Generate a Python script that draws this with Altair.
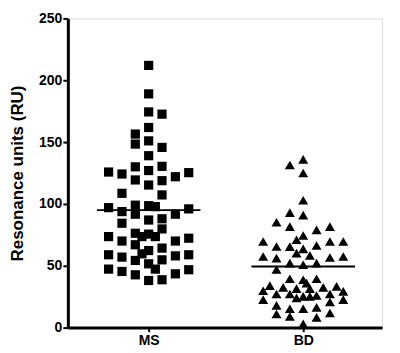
import altair as alt
import pandas as pd

groups = ["MS", "BD"]
group_pos = [1, 2]
means = [95, 49.5]

ms_values = [212, 189, 174.4, 172.6, 161.8, 156.5, 148.4, 151, 145.7, 139, 130, 130.4, 127,
             125.8, 124.2, 125.3, 122, 119.4, 118.8, 115.3, 108.6, 107.3,
             99, 98.6, 97.8, 97, 96, 93.8, 91.7, 91.7, 88, 87, 84.4, 79.8, 76.3, 75.6,
             73.6, 73.6, 73.6, 72.3, 70, 70, 67, 64.3, 62.3, 59.7, 58.9, 57, 54.3, 54.8,
             58, 58.9, 51.6, 47.3, 47.3, 45.4, 42.7, 43.5, 46.8, 38.1, 38.7]
ms_cols = [0, 0, 0, 2, 0, -2, -2, 0, 2, 0, -2, 2, 0,
           -6, -4, 6, 4, -2, 2, 0, -4, 2,
           -2, 0, 1, -6, 6, -4, -2, 4, 2, 0, -4, 2, -2, 0,
           -1, 1, -6, 6, -4, 4, -2, 2, 0, -1, -6, -4, -2, 2,
           4, 6, 0, 1, -6, -4, -2, 4, 6, 0, 2]

bd_values = [131.5, 136, 125, 103, 93, 91, 85.2, 81.7, 79, 81.7,
             74.5, 71, 69.6, 65.6, 65.5, 63.7, 66.4, 69.6, 69.6,
             57.5, 56.2, 60.2, 58.3, 52.2, 50.8, 52.2, 56.7, 57.5, 47,
             39.5, 38.7, 39.5, 36, 34, 32.5, 31.5, 31.5, 32.5, 33.3,
             29.8, 27.2, 27.2, 24, 25.3, 25.3, 26, 27.2, 29.3,
             22.6, 22.6, 20.7, 18, 15.3, 15.3, 16.4, 11, 9, 8.3, 11.8, 3]
bd_cols = [-2, 0, 0, 0, -2, 0, -4, -2, 2, 4,
           0, -1, -6, -4, -2, 0, 2, 4, 6,
           -6, -4, -1, 1, -2, 0, 2, 4, 6, -4,
           -2, 0, 2, 0.5, -5, -3, -1, 1, 3, 5,
           -6, -4, -2, -1, 0, 1, 2, 4, 6,
           -6, 6, 4, -4, -2, 0, 2, -4, -2, 2, 4, 0]

rows = []
for v, c in zip(ms_values, ms_cols):
    rows.append({"group": "MS", "gpos": 1, "col": c, "value": v})
for v, c in zip(bd_values, bd_cols):
    rows.append({"group": "BD", "gpos": 2, "col": c, "value": v})
pts = pd.DataFrame(rows)
mean_df = pd.DataFrame({"group": groups, "gpos": group_pos, "mean": means})

FONT = "Liberation Sans"
xscale = alt.Scale(domain=[0.477, 2.51], nice=False, zero=False)
yscale = alt.Scale(domain=[0, 250], nice=False)

xaxis = alt.Axis(values=[1, 2], labelExpr="datum.value == 1 ? 'MS' : 'BD'", title=None,
                 grid=False, domainWidth=3, domainColor="black", tickColor="black",
                 tickWidth=2, tickSize=4, labelFont=FONT, labelFontSize=14,
                 labelFontWeight="bold", labelColor="black", labelPadding=2)
yaxis = alt.Axis(values=[0, 50, 100, 150, 200, 250], title="Resonance units (RU)",
                 grid=False, domainWidth=3, domainColor="black", tickColor="black",
                 tickWidth=2, tickSize=5, labelFont=FONT, labelFontSize=14,
                 labelFontWeight="bold", labelColor="black", labelPadding=1,
                 titleFont=FONT, titleFontSize=17, titleFontWeight="bold",
                 titleColor="black", titlePadding=12)

points = alt.Chart(pts).transform_calculate(
    xp="datum.gpos + datum.col * 0.0432"
).mark_point(filled=True, opacity=1, color="black", strokeWidth=0).encode(
    x=alt.X("xp:Q", scale=xscale, axis=xaxis),
    y=alt.Y("value:Q", scale=yscale, axis=yaxis),
    shape=alt.Shape("group:N", scale=alt.Scale(domain=["MS", "BD"], range=["square", "triangle-up"]), legend=None),
    size=alt.Size("group:N", scale=alt.Scale(domain=["MS", "BD"], range=[85, 100]), legend=None),
)

lines = alt.Chart(mean_df).transform_calculate(
    x1="datum.gpos - 0.335", x2="datum.gpos + 0.335"
).mark_rule(color="black", strokeWidth=2).encode(
    x=alt.X("x1:Q", scale=xscale),
    x2="x2:Q",
    y=alt.Y("mean:Q", scale=yscale),
)

chart = alt.layer(points, lines).properties(
    width=315, height=310,
    autosize=alt.AutoSizeParams(type="none"),
    padding={"left": 60, "top": 10, "right": 10, "bottom": 25},
).configure_view(stroke=None).configure(background="white")

chart.save("out.html", embed_options={"renderer": "svg", "actions": False})
